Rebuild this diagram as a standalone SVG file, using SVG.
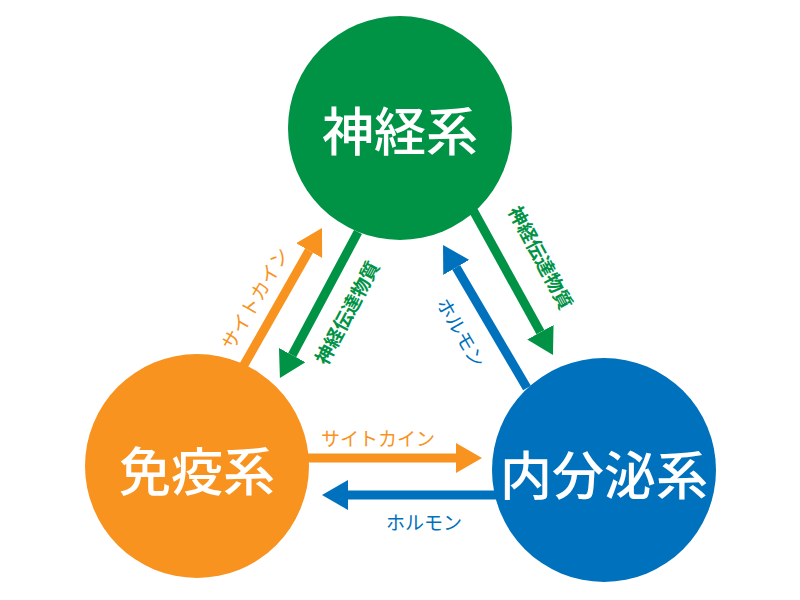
<svg xmlns="http://www.w3.org/2000/svg" width="800" height="600" viewBox="0 0 800 600">
<style>
text{font-family:"Noto Sans CJK JP","Noto Sans",sans-serif;text-anchor:middle;dominant-baseline:central}
.n{fill:#fff;font-size:52px;font-weight:500}
.l{font-size:19px}
.g{fill:#009245}.o{fill:#F7931E}.b{fill:#0071BC}
.ln{stroke-width:9;fill:none}
</style>
<defs>
<marker id="ag" viewBox="0 0 26 30" refX="0" refY="15" markerWidth="26" markerHeight="30" markerUnits="userSpaceOnUse" orient="auto"><path d="M0,0L26,15L0,30Z" fill="#009245"/></marker>
<marker id="ao" viewBox="0 0 26 30" refX="0" refY="15" markerWidth="26" markerHeight="30" markerUnits="userSpaceOnUse" orient="auto"><path d="M0,0L26,15L0,30Z" fill="#F7931E"/></marker>
<marker id="ab" viewBox="0 0 26 30" refX="0" refY="15" markerWidth="26" markerHeight="30" markerUnits="userSpaceOnUse" orient="auto"><path d="M0,0L26,15L0,30Z" fill="#0071BC"/></marker>
</defs>
<g id="connectors">
<line class="ln" x1="240" y1="372" x2="309.1" y2="250.6" stroke="#F7931E" marker-end="url(#ao)"/>
<line class="ln" x1="358" y1="232" x2="292.2" y2="355.1" stroke="#009245" marker-end="url(#ag)"/>
<line class="ln" x1="527" y1="388" x2="456.2" y2="267.4" stroke="#0071BC" marker-end="url(#ab)"/>
<line class="ln" x1="473" y1="210" x2="540.4" y2="332.2" stroke="#009245" marker-end="url(#ag)"/>
<line class="ln" x1="305" y1="458" x2="456" y2="458" stroke="#F7931E" marker-end="url(#ao)"/>
<line class="ln" x1="497" y1="495" x2="348" y2="495" stroke="#0071BC" marker-end="url(#ab)"/>
<text class="l o" transform="translate(254,298) rotate(-60)">サイトカイン</text>
<text class="l g" font-weight="bold" transform="translate(346,312) rotate(-62)">神経伝達物質</text>
<text class="l b" transform="translate(462,332) rotate(60)">ホルモン</text>
<text class="l g" font-weight="bold" transform="translate(542,257) rotate(62)">神経伝達物質</text>
<text class="l o" x="378" y="437">サイトカイン</text>
<text class="l b" x="424" y="521">ホルモン</text>
</g>
<g id="shinkei"><circle cx="400" cy="128" r="112" fill="#009245"/><text class="n" x="400" y="128">神経系</text></g>
<g id="meneki"><circle cx="197" cy="466" r="112" fill="#F7931E"/><text class="n" x="197" y="468">免疫系</text></g>
<g id="naibunpi"><circle cx="604" cy="470" r="112" fill="#0071BC"/><text class="n" x="604" y="472" font-size="48">内分泌系</text></g>
</svg>
